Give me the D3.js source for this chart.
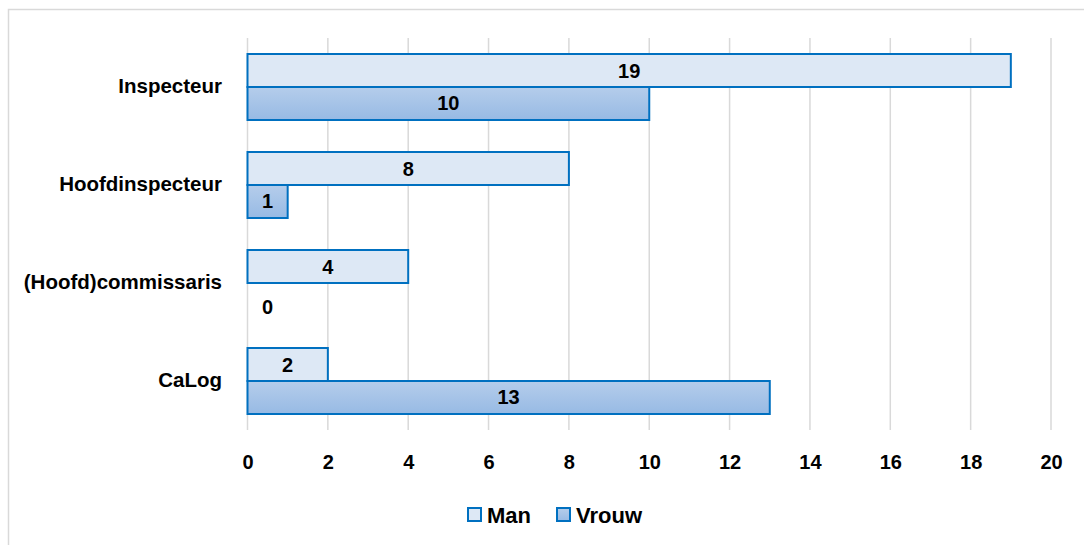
<!DOCTYPE html>
<html>
<head>
<meta charset="utf-8">
<script src="https://cdn.jsdelivr.net/npm/d3@7"></script>
<style>
  body { margin: 0; background: #fff; }
  text { font-family: "Liberation Sans", Arial, sans-serif; font-weight: bold; fill: #000; }
</style>
</head>
<body>
<div id="chart"></div>
<script>
// data
const categories = ["Inspecteur", "Hoofdinspecteur", "(Hoofd)commissaris", "CaLog"];
const series = ["Man", "Vrouw"];
const manValues = [19, 8, 4, 2];
const vrouwValues = [10, 1, 0, 13];
const xTicks = [0, 2, 4, 6, 8, 10, 12, 14, 16, 18, 20];

const width = 1084, height = 545;
const margin = { top: 38, right: 33, bottom: 115, left: 247.5 };

const svg = d3.select("#chart").append("svg")
  .attr("width", width)
  .attr("height", height);

// outer chart border (right/bottom cropped in the original)
svg.append("rect")
  .attr("x", 8.5).attr("y", 9.5)
  .attr("width", width + 20).attr("height", height + 20)
  .attr("fill", "none")
  .attr("stroke", "#d9d9d9")
  .attr("stroke-width", 1.5);

const defs = svg.append("defs");
const grad = defs.append("linearGradient")
  .attr("id", "vrouwGrad")
  .attr("x1", 0).attr("y1", 0).attr("x2", 0).attr("y2", 1);
grad.append("stop").attr("offset", "0%").attr("stop-color", "#b5cdeb");
grad.append("stop").attr("offset", "100%").attr("stop-color", "#97bae4");

const fills = { Man: "#dde8f5", Vrouw: "url(#vrouwGrad)" };

const x = d3.scaleLinear()
  .domain([0, 20])
  .range([margin.left, width - margin.right]);

const y = d3.scaleBand()
  .domain(categories)
  .range([margin.top, height - margin.bottom])
  .padding(0);

const ySub = d3.scaleBand()
  .domain(series)
  .range([0, y.bandwidth()])
  .paddingInner(0)
  .paddingOuter(0.485);

// gridlines
svg.append("g")
  .selectAll("line")
  .data(xTicks)
  .join("line")
  .attr("x1", d => x(d)).attr("x2", d => x(d))
  .attr("y1", margin.top).attr("y2", height - margin.bottom)
  .attr("stroke", "#d9d9d9")
  .attr("stroke-width", 1.5);

// x axis labels
const xAxis = svg.append("g")
  .attr("transform", `translate(0,${height - margin.bottom})`)
  .call(d3.axisBottom(x).tickValues(xTicks).tickSize(0).tickPadding(25));
xAxis.select(".domain").remove();
xAxis.selectAll("text")
  .style("font-family", '"Liberation Sans", Arial, sans-serif')
  .style("font-weight", "bold")
  .style("font-size", "20px")
  .attr("fill", "#000");

// category labels
svg.append("g")
  .selectAll("text")
  .data(categories)
  .join("text")
  .attr("x", 222)
  .attr("y", d => y(d) + y.bandwidth() / 2 - 2)
  .attr("text-anchor", "end")
  .attr("dominant-baseline", "central")
  .style("font-size", "20.5px")
  .text(d => d);

// bars
const rows = categories.map((c, i) => ({ cat: c, Man: manValues[i], Vrouw: vrouwValues[i] }));

const groups = svg.append("g")
  .selectAll("g")
  .data(rows)
  .join("g")
  .attr("transform", d => `translate(0,${y(d.cat)})`);

const bars = groups.selectAll("g")
  .data(d => series.map(s => ({ key: s, value: d[s] })))
  .join("g");

bars.filter(d => d.value > 0)
  .append("rect")
  .attr("x", x(0))
  .attr("y", d => ySub(d.key))
  .attr("width", d => x(d.value) - x(0))
  .attr("height", ySub.bandwidth())
  .attr("fill", d => fills[d.key])
  .attr("stroke", "#0070c0")
  .attr("stroke-width", 2);

bars.append("text")
  .attr("x", d => d.value > 0 ? x(d.value / 2) : x(0) + 20)
  .attr("y", d => ySub(d.key) + ySub.bandwidth() / 2 + (d.value > 0 ? 0 : 8))
  .attr("text-anchor", "middle")
  .attr("dominant-baseline", "central")
  .style("font-size", "20px")
  .text(d => d.value);

// legend
const legend = svg.append("g")
  .attr("transform", "translate(467,507)");

const legendItems = legend.selectAll("g")
  .data(series)
  .join("g")
  .attr("transform", (d, i) => `translate(${i * 89},0)`);

legendItems.append("rect")
  .attr("x", 1).attr("y", 1)
  .attr("width", 13).attr("height", 13)
  .attr("fill", d => fills[d])
  .attr("stroke", "#0070c0")
  .attr("stroke-width", 2);

legendItems.append("text")
  .attr("x", 20)
  .attr("y", 8)
  .attr("dominant-baseline", "central")
  .style("font-size", "22px")
  .text(d => d);
</script>
</body>
</html>
